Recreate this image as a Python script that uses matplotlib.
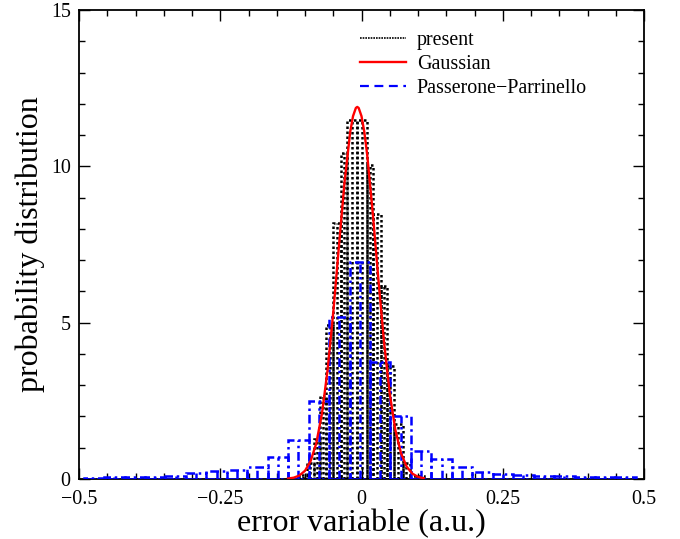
import numpy as np
import matplotlib.pyplot as plt
from matplotlib.lines import Line2D
from matplotlib.ticker import MultipleLocator, FixedLocator, FixedFormatter

plt.rcParams['font.family'] = ['Liberation Serif', 'DejaVu Serif']

# "present" histogram (bin edges and heights)
present_edges = [-0.135, -0.11, -0.097, -0.084, -0.0737, -0.062, -0.050, -0.0364,
                 -0.0252, -0.008, 0.0092, 0.021, 0.034, 0.0447, 0.0577, 0.073,
                 0.086, 0.11]
present_heights = [0.04, 0.12, 0.51, 1.28, 2.66, 4.91, 8.2, 10.43,
                   11.47, 11.47, 10.05, 8.46, 6.17, 3.62, 1.76, 0.5, 0.1]

# Passerone-Parrinello histogram
pp_edges = [-0.4918, -0.4556, -0.4194, -0.3832, -0.347, -0.3108, -0.2746, -0.2384,
            -0.2022, -0.166, -0.1298, -0.0936, -0.0574, -0.0212, 0.015, 0.0512,
            0.0874, 0.1236, 0.1598, 0.196, 0.2322, 0.2684, 0.3046, 0.3408,
            0.377, 0.4132, 0.4494, 0.4856]
pp_heights = [0.04, 0.06, 0.07, 0.07, 0.1, 0.18, 0.26, 0.28,
              0.37, 0.69, 1.24, 2.5, 5.17, 6.94, 3.73, 2.02,
              0.9, 0.64, 0.37, 0.21, 0.16, 0.13, 0.1, 0.08,
              0.06, 0.05, 0.05]

# Gaussian curve, points
gauss_x = [-0.13, -0.12, -0.11, -0.10, -0.09, -0.08, -0.07, -0.06, -0.05, -0.04,
           -0.03, -0.02, -0.015, -0.01, -0.0075, -0.005, 0.0, 0.005, 0.01, 0.02,
           0.03, 0.04, 0.05, 0.06, 0.07, 0.08, 0.09, 0.10, 0.11]
gauss_y = [0.015, 0.042, 0.11, 0.263, 0.574, 1.144, 2.088, 3.486, 5.322, 7.433,
           9.497, 11.10, 11.605, 11.867, 11.9, 11.867, 11.605, 11.10, 10.38, 8.497,
           6.361, 4.355, 2.728, 1.563, 0.819, 0.393, 0.172, 0.069, 0.025]

fig = plt.figure(figsize=(6.8, 5.39), dpi=100)
ax = fig.add_axes([79 / 680, 1 - 479 / 539, 565 / 680, 469 / 539])

dotted = (0, (1, 1))
dashdot = (0, (3.5, 1.5, 1, 1.5))

# present: dotted boxes
pe = np.array(present_edges)
ph = np.array(present_heights)
ax.bar(pe[:-1], ph, width=np.diff(pe), align='edge', fill=False,
       edgecolor='black', linestyle=dotted, linewidth=1.8, zorder=2)
ax.vlines((pe[:-1] + pe[1:]) / 2, 0, ph, colors='black', linestyles=dotted,
          linewidth=1.8, zorder=2)

# Passerone-Parrinello: dash-dot boxes
be = np.array(pp_edges)
bh = np.array(pp_heights)
ax.bar(be[:-1], bh, width=np.diff(be), align='edge', fill=False,
       edgecolor='blue', linestyle=dashdot, linewidth=1.8, zorder=3)
ax.vlines((be[:-1] + be[1:]) / 2, 0, bh, colors='blue', linestyles=dashdot,
          linewidth=1.8, zorder=3)

# Gaussian
ax.plot(gauss_x, gauss_y, color='red', linewidth=1.7, zorder=4)

ax.set_xlim(-0.5, 0.5)
ax.set_ylim(0, 15)

xt = [-0.5, -0.25, 0, 0.25, 0.5]
ax.xaxis.set_major_locator(FixedLocator(xt))
ax.xaxis.set_major_formatter(FixedFormatter(['\u22120.5', '\u22120.25', '0', '0.25', '0.5']))
ax.xaxis.set_minor_locator(MultipleLocator(0.05))
ax.yaxis.set_major_locator(MultipleLocator(5))
ax.yaxis.set_minor_locator(MultipleLocator(1))
ax.tick_params(which='both', direction='in', top=True, right=True,
               labelsize=14.4, width=1.0)
ax.tick_params(which='major', length=8, pad=6)
ax.tick_params(axis='x', which='major', pad=8)
ax.tick_params(which='minor', length=4)
for s in ax.spines.values():
    s.set_linewidth(1.3)

ax.set_xlabel('error variable (a.u.)', fontsize=23, labelpad=0)
ax.set_ylabel('probability distribution', fontsize=23, labelpad=4)

handles = [
    Line2D([], [], color='black', linestyle=(0, (1, 0.6)), linewidth=1.2),
    Line2D([], [], color='red', linewidth=1.7),
    Line2D([], [], color='blue', linestyle=(0, (4, 2.5)), linewidth=1.6),
]
ax.legend(handles, ['present', 'Gaussian', 'Passerone\u2212Parrinello'],
          loc='upper left', bbox_to_anchor=(0.497, 0.955), frameon=False,
          fontsize=14.4, handlelength=2.3, handletextpad=0.55,
          labelspacing=0.25, borderpad=0, borderaxespad=0)

fig.savefig('out.png', dpi=100)
